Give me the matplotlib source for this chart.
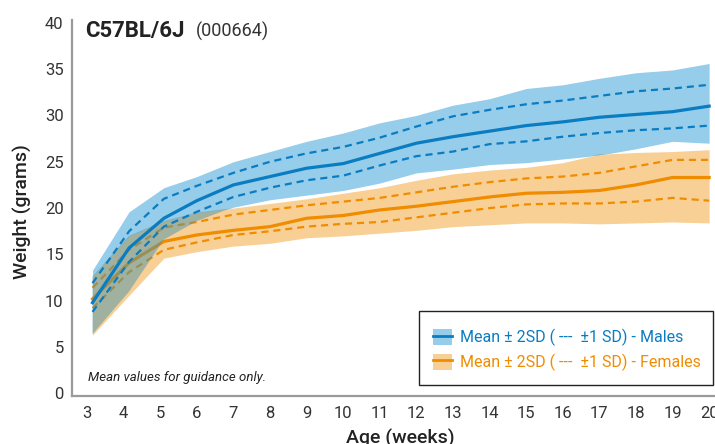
import numpy as np
import matplotlib
matplotlib.use("Agg")
import matplotlib.pyplot as plt
from matplotlib.patches import Patch, Rectangle
from matplotlib.lines import Line2D

plt.rcParams['font.family'] = ['Roboto', 'DejaVu Sans']

# ages (weeks) and weights (grams)
weeks = [3.15, 4.15, 5.1, 6, 7, 8, 9, 10, 11, 12, 13, 14, 15, 16, 17, 18, 19, 20]

male_hi2 = [13.3, 19.6, 22.2, 23.4, 25.0, 26.1, 27.2, 28.1, 29.2, 30.0, 31.1, 31.8, 32.9, 33.3, 34.0, 34.6, 34.9, 35.6]
male_hi1 = [11.9, 17.5, 21.0, 22.4, 23.8, 25.0, 25.9, 26.6, 27.6, 28.8, 29.9, 30.6, 31.2, 31.6, 32.1, 32.6, 32.9, 33.3]
male_mean = [9.8, 15.7, 18.9, 20.8, 22.5, 23.4, 24.3, 24.8, 25.9, 27.0, 27.7, 28.3, 28.9, 29.3, 29.8, 30.1, 30.4, 31.0]
male_lo1 = [8.8, 14.2, 18.0, 19.6, 21.2, 22.2, 23.0, 23.5, 24.6, 25.6, 26.1, 26.9, 27.2, 27.7, 28.1, 28.4, 28.6, 28.9]
male_lo2 = [6.4, 11.0, 16.6, 18.6, 20.1, 20.9, 21.4, 21.9, 22.7, 23.8, 24.2, 24.7, 24.9, 25.3, 25.7, 26.4, 27.2, 27.0]

fem_hi2 = [12.6, 17.0, 18.6, 19.5, 20.0, 20.5, 21.0, 21.6, 22.2, 23.0, 23.7, 24.1, 24.4, 24.9, 25.8, 26.0, 26.1, 26.3]
fem_hi1 = [11.4, 15.5, 17.9, 18.5, 19.3, 19.8, 20.3, 20.7, 21.1, 21.7, 22.3, 22.8, 23.2, 23.4, 23.8, 24.5, 25.2, 25.2]
fem_mean = [10.2, 14.1, 16.4, 17.1, 17.6, 18.0, 18.9, 19.2, 19.8, 20.2, 20.7, 21.2, 21.6, 21.7, 21.9, 22.5, 23.3, 23.3]
fem_lo1 = [9.2, 13.1, 15.5, 16.3, 17.1, 17.5, 18.0, 18.3, 18.5, 19.0, 19.5, 20.0, 20.4, 20.5, 20.5, 20.7, 21.1, 20.8]
fem_lo2 = [6.3, 10.6, 14.6, 15.3, 15.9, 16.2, 16.8, 17.0, 17.3, 17.6, 18.0, 18.2, 18.4, 18.4, 18.3, 18.4, 18.5, 18.4]

xticks = list(range(3, 21))
yticks = [0, 5, 10, 15, 20, 25, 30, 35, 40]

blue = '#0a7cc2'
blue_band = '#96cdea'
orange = '#f08c00'
orange_band = '#f8d096'
overlap = '#4a93a8'
grey = '#9a9a9a'
txt = '#333333'

fig = plt.figure(figsize=(7.15, 4.44), dpi=100)
ax = fig.add_axes([72/715, 48/444, 643/715, 376/444])

x = np.array(weeks)
ax.fill_between(x, male_lo2, male_hi2, color=blue_band, lw=0, zorder=1)
ax.fill_between(x, fem_lo2, fem_hi2, color=orange_band, lw=0, zorder=2)

dash = (3.2, 2.2)
ax.plot(x, fem_mean, color=orange, lw=2.3, zorder=3)
ax.plot(x, fem_hi1, color=orange, lw=1.6, dashes=dash, zorder=3)
ax.plot(x, fem_lo1, color=orange, lw=1.6, dashes=dash, zorder=3)

# where the two bands overlap
lo = np.maximum(male_lo2, fem_lo2)
hi = np.minimum(male_hi2, fem_hi2)
ax.fill_between(x, lo, hi, where=hi > lo, interpolate=True,
                color=overlap, alpha=0.5, lw=0, zorder=4)

ax.plot(x, male_mean, color=blue, lw=2.3, zorder=5)
ax.plot(x, male_hi1, color=blue, lw=1.6, dashes=dash, zorder=5)
ax.plot(x, male_lo1, color=blue, lw=1.6, dashes=dash, zorder=5)

ax.set_xlim(2.59, 20.16)
ax.set_ylim(-0.27, 40.29)
ax.set_xticks(xticks)
ax.set_yticks(yticks)
ax.tick_params(length=0, labelsize=12, colors=txt, pad=6)
ax.tick_params(axis='x', pad=7)
for s in ['top', 'right']:
    ax.spines[s].set_visible(False)
for s in ['left', 'bottom']:
    ax.spines[s].set_color(grey)
    ax.spines[s].set_linewidth(1.6)

fig.text(85/715, 1 - 31/444, 'C57BL/6J', fontsize=16, fontweight='bold',
         color='#222222', va='center', ha='left')
fig.text(196/715, 1 - 31/444, '(000664)', fontsize=13, color='#333333',
         va='center', ha='left')

fig.text(22/715, 1 - 212/444, 'Weight (grams)', rotation=90, fontsize=14,
         fontweight='medium', color='#222222', va='center', ha='center')
fig.text(400/715, 1 - 438/444, 'Age (weeks)', fontsize=14, fontweight='medium',
         color='#222222', va='center', ha='center')

ax.text(88/715, 1 - 378/444, 'Mean values for guidance only.', transform=fig.transFigure,
        fontsize=9.5, style='italic', color='#222222', va='center', ha='left')

# legend box drawn by hand so its size matches
fig.patches.append(Rectangle((419/715, 1 - 385/444), 294/715, 74/444,
                             transform=fig.transFigure, facecolor='white',
                             edgecolor='#222222', lw=1.0, zorder=10))
handles = [(Patch(facecolor=blue_band, edgecolor='none'), Line2D([], [], color=blue, lw=2)),
           (Patch(facecolor=orange_band, edgecolor='none'), Line2D([], [], color=orange, lw=2))]
labels = ['Mean \u00b1 2SD ( ---  \u00b11 SD) - Males', 'Mean \u00b1 2SD ( ---  \u00b11 SD) - Females']
leg = fig.legend(handles, labels, loc='center left', bbox_to_anchor=(433/715, 1 - 350/444),
                 frameon=False, fontsize=11.5,
                 labelcolor=[blue, orange], handlelength=1.2, handleheight=1.2,
                 handletextpad=0.5, borderpad=0, labelspacing=0.45, borderaxespad=0)
leg.set_zorder(11)

fig.savefig('out.png', dpi=100)
